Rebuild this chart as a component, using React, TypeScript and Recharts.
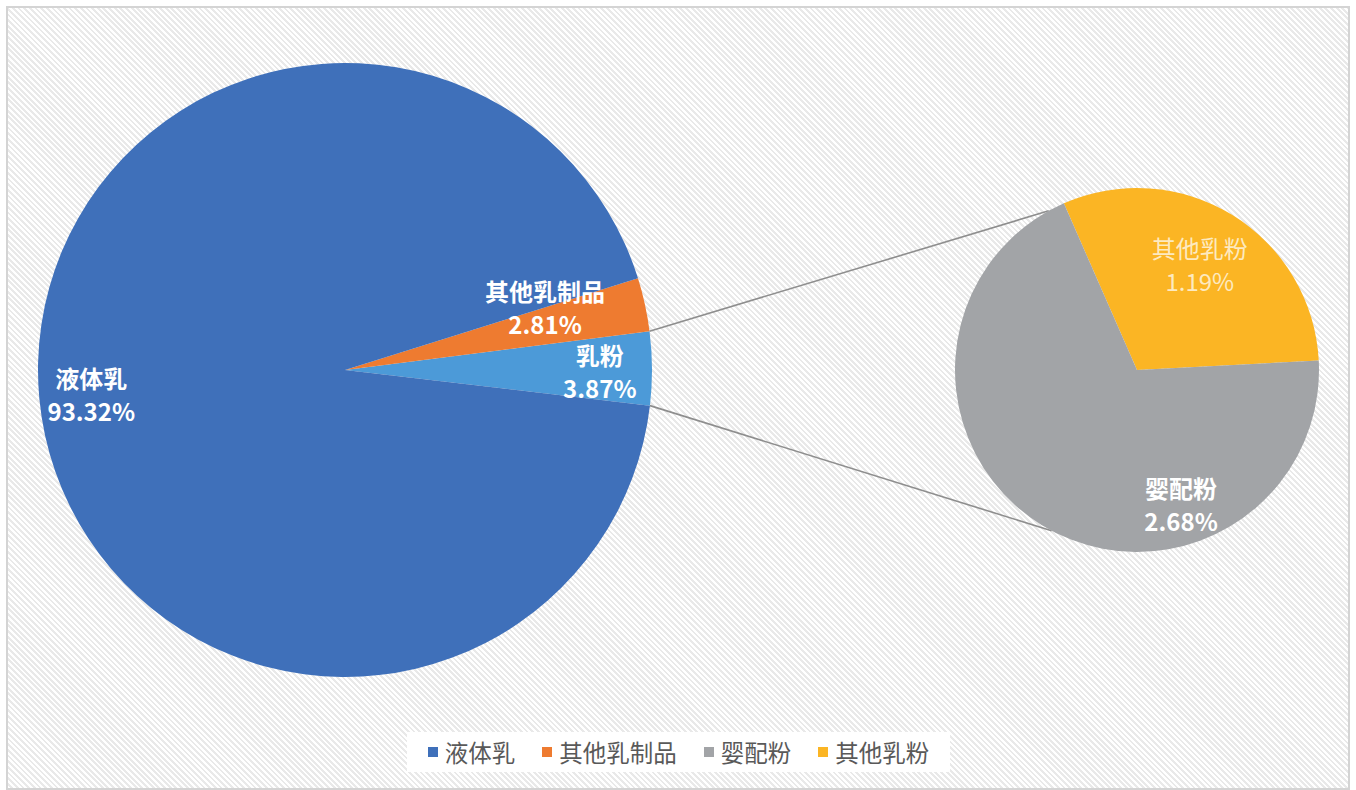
import { PieChart, Pie, Cell, Legend, Customized } from "recharts";

// main pie (share of dairy output, %)
const mainNames = ["乳粉", "其他乳制品", "液体乳"];
const mainValues = [3.87, 2.81, 93.32];
const mainColors = ["#4C9AD8", "#EE7B30", "#3F70BA"];

// breakdown of 乳粉
const subNames = ["其他乳粉", "婴配粉"];
const subValues = [1.19, 2.68];
const subColors = ["#FBB524", "#A2A4A7"];

const legendNames = ["液体乳", "其他乳制品", "婴配粉", "其他乳粉"];
const legendColors = ["#3F70BA", "#EE7B30", "#A2A4A7", "#FBB524"];

const mainData = mainNames.map((name, i) => ({ name, value: mainValues[i] }));
const subData = subNames.map((name, i) => ({ name, value: subValues[i] }));

const FONT = '"Noto Sans CJK SC", "Noto Sans", sans-serif';
const MAIN = { cx: 345, cy: 370, r: 307 };
const SUB = { cx: 1137, cy: 370, r: 182 };

const splitSweep = (mainValues[0] / 100) * 360;
const MAIN_START = -splitSweep / 2 + 0.3;
const SUB_START = 3;
const SUB_LINK_ANGLES = [119, -118];

// label placement: angle (deg, null = slice middle) and fraction of radius
const mainLabelPlace = [
  { angle: 0, r: 0.83 },
  { angle: 17.7, r: 0.684 },
  { angle: null, r: 0.83 },
];
const subLabelPlace = [
  { angle: 59.5, r: 0.68 },
  { angle: -71.8, r: 0.775 },
];

const RAD = Math.PI / 180;
const polar = (cx: number, cy: number, r: number, a: number) => ({
  x: cx + r * Math.cos(a * RAD),
  y: cy - r * Math.sin(a * RAD),
});

const makeLabel =
  (names: string[], values: number[], places: any[], styles: any[]) =>
  (props: any) => {
    const { cx, cy, outerRadius, midAngle, index } = props;
    const place = places[index];
    const p = polar(cx, cy, outerRadius * place.r, place.angle ?? midAngle);
    const st = styles[index];
    return (
      <g>
        <text
          x={p.x}
          y={p.y - 16}
          textAnchor="middle"
          dominantBaseline="central"
          fill={st.fill}
          fontWeight={st.weight}
          fontSize={24}
          fontFamily={FONT}
        >
          {names[index]}
        </text>
        <text
          x={p.x}
          y={p.y + 17}
          textAnchor="middle"
          dominantBaseline="central"
          fill={st.fill}
          fontWeight={st.weight}
          fontSize={24}
          fontFamily={FONT}
        >
          {values[index].toFixed(2)}%
        </text>
      </g>
    );
  };

const mainLabel = makeLabel(mainNames, mainValues, mainLabelPlace, [
  { fill: "#fff", weight: 700 },
  { fill: "#fff", weight: 700 },
  { fill: "#fff", weight: 700 },
]);
const subLabel = makeLabel(subNames, subValues, subLabelPlace, [
  { fill: "#FDEAC0", weight: 400 },
  { fill: "#fff", weight: 600 },
]);

function Connectors() {
  const a = polar(MAIN.cx, MAIN.cy, MAIN.r, MAIN_START + splitSweep);
  const b = polar(MAIN.cx, MAIN.cy, MAIN.r, MAIN_START);
  const c = polar(SUB.cx, SUB.cy, SUB.r, SUB_LINK_ANGLES[0]);
  const d = polar(SUB.cx, SUB.cy, SUB.r, SUB_LINK_ANGLES[1]);
  return (
    <g>
      <line x1={a.x} y1={a.y} x2={c.x} y2={c.y} stroke="#8E8E8E" strokeWidth={1.6} />
      <line x1={b.x} y1={b.y} x2={d.x} y2={d.y} stroke="#8E8E8E" strokeWidth={1.6} />
    </g>
  );
}

function LegendBox() {
  return (
    <div
      style={{
        background: "#fff",
        width: 543,
        height: 40,
        display: "flex",
        alignItems: "center",
        justifyContent: "center",
        gap: 27,
        fontFamily: FONT,
        fontSize: 23.5,
        color: "#595959",
      }}
    >
      {legendNames.map((n, i) => (
        <span key={n} style={{ display: "flex", alignItems: "center", gap: 7 }}>
          <span style={{ width: 10, height: 10, background: legendColors[i], display: "inline-block" }} />
          <span style={{ lineHeight: "40px" }}>{n}</span>
        </span>
      ))}
    </div>
  );
}

export default function App() {
  return (
    <div style={{ position: "absolute", left: 0, top: 0, width: 1356, height: 790, background: "#fff" }}>
      <div
        style={{
          position: "absolute",
          left: 6,
          top: 6,
          width: 1340,
          height: 780,
          border: "2px solid #D4D4D4",
          background:
            "repeating-linear-gradient(45deg, #FFFFFF 0px, #FFFFFF 2px, #E9E9E9 2px, #E9E9E9 4px)",
        }}
      />
      <div style={{ position: "absolute", left: 0, top: 0 }}>
        <PieChart width={1356} height={790} margin={{ top: 0, right: 0, bottom: 0, left: 0 }}>
          <Customized component={Connectors} />
          <Pie
            data={mainData}
            dataKey="value"
            nameKey="name"
            cx={MAIN.cx}
            cy={MAIN.cy}
            outerRadius={MAIN.r}
            startAngle={MAIN_START}
            endAngle={MAIN_START + 360}
            stroke="none"
            label={mainLabel}
            labelLine={false}
            isAnimationActive={false}
          >
            {mainData.map((d, i) => (
              <Cell key={d.name} fill={mainColors[i]} />
            ))}
          </Pie>
          <Pie
            data={subData}
            dataKey="value"
            nameKey="name"
            cx={SUB.cx}
            cy={SUB.cy}
            outerRadius={SUB.r}
            startAngle={SUB_START}
            endAngle={SUB_START + 360}
            stroke="none"
            label={subLabel}
            labelLine={false}
            isAnimationActive={false}
          >
            {subData.map((d, i) => (
              <Cell key={d.name} fill={subColors[i]} />
            ))}
          </Pie>
          <Legend
            content={<LegendBox />}
            wrapperStyle={{ left: 407, top: 732, width: 543, height: 40, bottom: "auto" }}
          />
        </PieChart>
      </div>
    </div>
  );
}
